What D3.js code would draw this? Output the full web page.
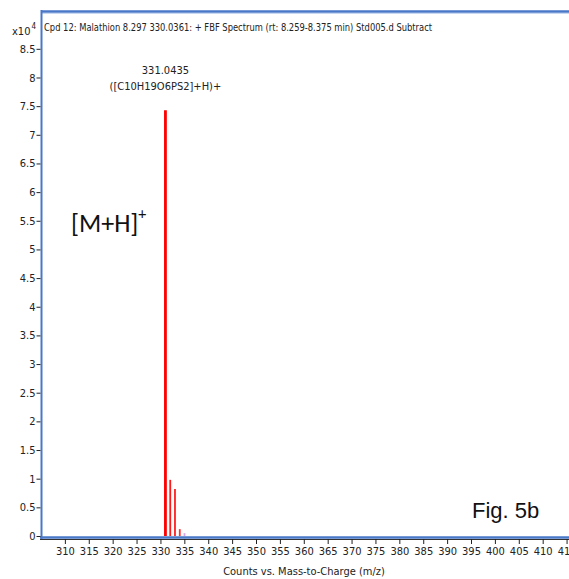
<!DOCTYPE html>
<html><head><meta charset="utf-8">
<script src="https://cdn.jsdelivr.net/npm/d3@7"></script>
<style>
html,body{margin:0;padding:0;background:#fff;}
svg{display:block;}
.narrow{font-family:"Liberation Sans Narrow","Arial Narrow","DejaVu Sans Condensed",sans-serif;}
</style></head>
<body>
<svg id="c" width="569" height="579"></svg>
<script>
const title = "Cpd 12: Malathion 8.297 330.0361: + FBF Spectrum (rt: 8.259-8.375 min) Std005.d  Subtract";
const xTicks = [310,315,320,325,330,335,340,345,350,355,360,365,370,375,380,385,390,395,400,405,410,415];
const yTicks = [0,0.5,1,1.5,2,2.5,3,3.5,4,4.5,5,5.5,6,6.5,7,7.5,8,8.5];
const peakMz = [331.0435, 332.046, 333.040, 334.043, 335.040];
const peakCounts = [74300, 9800, 8200, 1200, 500]; // counts
const peakColors = ["#ff0000","#ff1a1a","#ff2020","#ff3030","#d9a6e6"];
const peakLabel = ["331.0435", "([C10H19O6PS2]+H)+"];
const xTitle = "Counts vs. Mass-to-Charge (m/z)";

const svg = d3.select("#c");
const x = d3.scaleLinear().domain([305, 415.3]).range([41, 568]);
const y = d3.scaleLinear().domain([0, 9.16]).range([536, 11]);

// peaks
svg.selectAll("line.peak").data(peakMz).enter().append("line")
  .attr("x1", d=>x(d)).attr("x2", d=>x(d))
  .attr("y1", y(0)).attr("y2", (d,i)=>y(peakCounts[i]/1e4))
  .attr("stroke", (d,i)=>peakColors[i])
  .attr("stroke-width", (d,i)=> i===0 ? 2.8 : 1.8);

// frame: top line
svg.append("line").attr("x1",41).attr("x2",569).attr("y1",11.5).attr("y2",11.5)
  .attr("stroke","#4a78c8").attr("stroke-width",2.5);
svg.append("line").attr("x1",41).attr("x2",569).attr("y1",13.5).attr("y2",13.5)
  .attr("stroke","#c8d8f0").attr("stroke-width",1);
// left axis
svg.append("line").attr("x1",41.5).attr("x2",41.5).attr("y1",10).attr("y2",539)
  .attr("stroke","#4a78c8").attr("stroke-width",2);
// bottom axis
svg.append("line").attr("x1",40).attr("x2",569).attr("y1",537.5).attr("y2",537.5)
  .attr("stroke","#4a78c8").attr("stroke-width",2.5);
svg.append("line").attr("x1",40).attr("x2",569).attr("y1",539.5).attr("y2",539.5)
  .attr("stroke","#333").attr("stroke-width",1);

// x axis ticks
const xAxis = d3.axisBottom(x).tickValues(xTicks).tickSize(5).tickPadding(3).tickFormat(d3.format("d"));
const gx = svg.append("g").attr("transform","translate(0,539)").call(xAxis);
gx.select(".domain").remove();
gx.selectAll(".tick line").attr("stroke","#222");
gx.selectAll("text").attr("class","narrow").attr("font-size","11px").attr("fill","#222").attr("font-family",null);

// y axis ticks
const yAxis = d3.axisLeft(y).tickValues(yTicks).tickSize(4).tickPadding(1).tickFormat(d=>String(d));
const gy = svg.append("g").attr("transform","translate(40.5,0)").call(yAxis);
gy.select(".domain").remove();
gy.selectAll(".tick line").attr("stroke","#222");
gy.selectAll("text").attr("class","narrow").attr("font-size","11px").attr("fill","#222").attr("font-family",null);

// x10^4
const ex = svg.append("text").attr("class","narrow").attr("x",12).attr("y",35).attr("font-size","11px").attr("fill","#222");
ex.append("tspan").text("x10");
ex.append("tspan").attr("dx",1).attr("dy",-6).attr("font-size","8px").text("4");

// title
svg.append("text").attr("class","narrow").attr("x",44).attr("y",31).attr("font-size","11px").attr("fill","#222")
  .attr("textLength",388).attr("lengthAdjust","spacingAndGlyphs").text(title);

// peak label
svg.append("text").attr("class","narrow").attr("x",x(peakMz[0])).attr("y",74).attr("text-anchor","middle")
  .attr("font-size","11px").attr("fill","#222").text(peakLabel[0]);
svg.append("text").attr("class","narrow").attr("x",x(peakMz[0])).attr("y",90).attr("text-anchor","middle")
  .attr("font-size","11px").attr("fill","#222").text(peakLabel[1]);

// [M+H]+
const mh = svg.append("text").attr("x",71).attr("y",232).attr("font-family","Carlito, 'Open Sans', sans-serif")
  .attr("font-size","26px").attr("fill","#111");
mh.append("tspan").text("[M+H]");
mh.append("tspan").attr("dy",-13).attr("font-size","16px").text("+");

// Fig. 5b
svg.append("text").attr("x",472).attr("y",518).attr("font-family","'Liberation Sans', Arial, sans-serif")
  .attr("font-size","22px").attr("fill","#111").text("Fig. 5b");

// x title
svg.append("text").attr("class","narrow").attr("x",304).attr("y",575).attr("text-anchor","middle")
  .attr("font-size","11px").attr("fill","#222").text(xTitle);
</script>
</body></html>
